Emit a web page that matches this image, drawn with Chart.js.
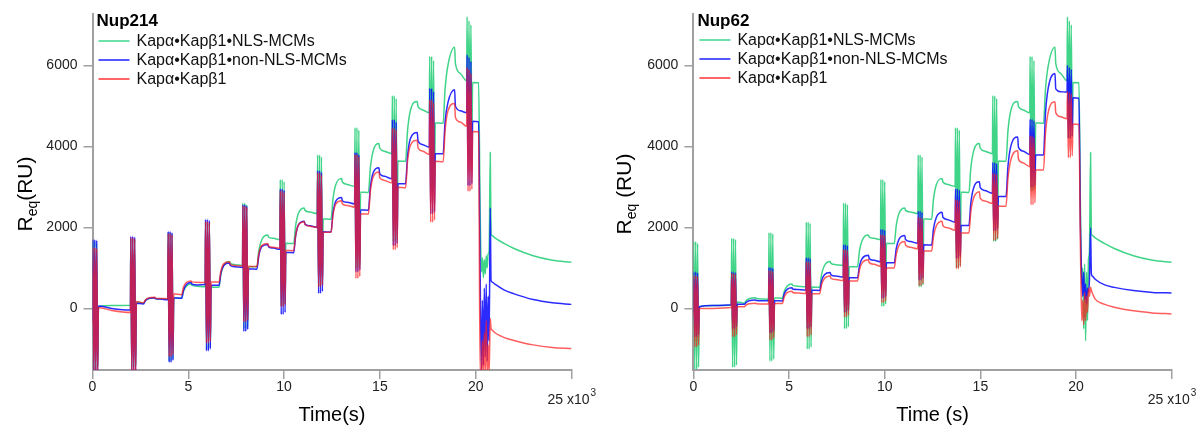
<!DOCTYPE html>
<html><head><meta charset="utf-8">
<script src="https://cdn.jsdelivr.net/npm/chart.js@4.4.1/dist/chart.umd.min.js"></script>
<style>
html,body{margin:0;padding:0;background:#fff;}
#wrap{position:relative;width:1201px;height:428px;overflow:hidden;}
.panel{position:absolute;top:0;width:600px;height:428px;}
#warn{position:absolute;left:300px;top:200px;color:#f00;font:20px sans-serif;}
</style></head><body>
<div id="wrap">
<div class="panel" style="left:0"><canvas id="c1" width="600" height="428"></canvas></div>
<div class="panel" style="left:600px"><canvas id="c2" width="600" height="428"></canvas></div>
<div id="warn"></div>
</div>
<script>
// ---------- shared time grid (s) ----------
const time = [
  0, 20, 70, 120, 170, 220, 270, 310, 1000,
  1980, 2000, 2050, 2100, 2150, 2200, 2250, 2290, 2660, 2760, 2910, 3250, 3290, 3550,
  3930, 3950, 4000, 4050, 4100, 4150, 4200, 4240, 4650, 4750, 4900, 5150, 5190, 5450,
  5880, 5900, 5950, 6000, 6050, 6100, 6150, 6190, 6600, 6700, 6850, 7150, 7190, 7450,
  7830, 7850, 7900, 7950, 8000, 8050, 8100, 8140, 8580, 8680, 8830, 9150, 9190, 9450,
  9780, 9800, 9850, 9900, 9950, 10000, 10050, 10090, 10500, 10600, 10750, 11050, 11090, 11350,
  11730, 11750, 11800, 11850, 11900, 11950, 12000, 12040, 12450, 12550, 12700, 13000, 13040, 13300,
  13680, 13700, 13750, 13800, 13850, 13900, 13950, 13990, 14400, 14500, 14650, 14950, 14990, 15250,
  15630, 15650, 15700, 15750, 15800, 15850, 15900, 15940, 16340, 16440, 16590, 16950, 16990, 17250,
  17580, 17600, 17650, 17700, 17750, 17800, 17850, 17890, 18300, 18400, 18550, 18900, 18940, 19200,
  19530, 19550, 19600, 19650, 19700, 19750, 19800, 19840, 20150,
  20230, 20300, 20350, 20400, 20450, 20500, 20550, 20600, 20650, 20700, 20760, 20800, 20850, 21000, 21500, 22000, 23000, 24000, 25000
];

// ---------- Nup214 (left) ----------
const nup214_NLS = [
  0, 1650, -1500, 1650, -1500, 1600, -1450, 40, 75,
  80, 1730, -1450, 1730, -1450, 1700, -1400, 160, 130, 195, 240, 265, 245, 235,
  225, 1870, -1300, 1870, -1300, 1840, -1250, 260, 250, 425, 550, 600, 570, 550,
  535, 2130, -1000, 2130, -1000, 2100, -950, 530, 520, 840, 1060, 1160, 1110, 1080,
  1060, 2600, -500, 2600, -500, 2560, -450, 1030, 1030, 1420, 1690, 1810, 1760, 1730,
  1700, 3180, 50, 3180, 50, 3130, 100, 1610, 1600, 2040, 2350, 2480, 2420, 2380,
  2340, 3790, 530, 3790, 530, 3740, 580, 2210, 2200, 2700, 3060, 3210, 3120, 3060,
  3010, 4460, 1000, 4460, 1000, 4400, 1050, 2870, 2860, 3460, 3890, 4070, 3960, 3880,
  3820, 5250, 1650, 5250, 1650, 5180, 1700, 3640, 3630, 4370, 4880, 5110, 4980, 4900,
  4830, 6220, 2900, 6220, 2900, 6120, 2950, 4580, 4570, 5400, 6000, 6450, 6050, 5800,
  5620, 7200, 4200, 7100, 4200, 7000, 4250, 5580, 5570,
  2500, 900, 1250, 760, 1200, 850, 1300, 1000, 1350, 1400, 3850, 1840, 1800, 1740, 1600, 1480, 1300, 1190, 1140
];
const nup214_nonNLS = [
  -300, 1700, -1600, 1700, -1600, 1680, -1600, 60, 0,
  -40, 1780, -1600, 1780, -1600, 1760, -1600, 130, 110, 190, 245, 265, 240, 230,
  215, 1900, -1330, 1900, -1330, 1870, -1280, 260, 250, 450, 590, 640, 600, 580,
  590, 2200, -1050, 2200, -1050, 2170, -1000, 575, 570, 870, 1060, 1120, 1060, 1030,
  1010, 2560, -570, 2560, -570, 2530, -520, 975, 970, 1300, 1520, 1580, 1520, 1490,
  1460, 2950, -150, 2950, -150, 2920, -100, 1380, 1375, 1780, 2060, 2150, 2080, 2040,
  2000, 3400, 370, 3400, 370, 3360, 420, 1890, 1885, 2350, 2650, 2740, 2660, 2620,
  2580, 3850, 900, 3850, 900, 3800, 950, 2430, 2425, 2980, 3350, 3470, 3330, 3260,
  3200, 4660, 1550, 4660, 1550, 4600, 1600, 3080, 3080, 3750, 4190, 4340, 4140, 4040,
  3980, 5430, 2330, 5430, 2330, 5350, 2380, 3820, 3820, 4600, 5080, 5400, 5000, 4880,
  4830, 6260, 3030, 6200, 3030, 6100, 3080, 4620, 4610,
  1000, -1600, 200, -1400, 500, -1200, 600, -1300, 300, -800, 2480, 690, 650, 600, 450, 360, 220, 140, 100
];
const nup214_kap = [
  -400, 1500, -1600, 1500, -1600, 1480, -1600, 20, -50,
  -100, 1750, -1600, 1750, -1600, 1720, -1600, 170, 140, 210, 255, 275, 250, 245,
  240, 1850, -1190, 1850, -1190, 1820, -1140, 360, 340, 530, 640, 680, 655, 645,
  640, 2150, -860, 2150, -860, 2120, -810, 655, 650, 920, 1100, 1150, 1090, 1060,
  1050, 2530, -330, 2530, -330, 2500, -280, 1040, 1035, 1340, 1550, 1600, 1540, 1510,
  1490, 2900, 40, 2900, 40, 2860, 90, 1430, 1425, 1800, 2060, 2140, 2070, 2030,
  2000, 3350, 530, 3350, 530, 3300, 580, 1880, 1880, 2300, 2580, 2660, 2580, 2540,
  2500, 3800, 740, 3800, 740, 3750, 790, 2330, 2330, 2880, 3250, 3370, 3230, 3160,
  3100, 4450, 1450, 4450, 1450, 4400, 1500, 2990, 2980, 3620, 4020, 4150, 3960, 3880,
  3800, 5150, 2130, 5150, 2130, 5080, 2180, 3630, 3620, 4370, 4870, 5060, 4720, 4600,
  4500, 5950, 2890, 5900, 2890, 5800, 2940, 4370, 4360,
  -1600, -1600, -800, -1600, -600, -1600, -300, -1600, -900, -1600, -250, -490, -530, -600, -720, -790, -900, -965, -990
];

// ---------- Nup62 (right) ----------
const nup62_NLS = [
  0, 1650, -1500, 1650, -1500, 1600, -1450, 40, 75,
  80, 1730, -1450, 1730, -1450, 1700, -1400, 160, 130, 195, 240, 265, 245, 235,
  225, 1870, -1300, 1870, -1300, 1840, -1250, 260, 250, 425, 550, 600, 570, 550,
  535, 2130, -1000, 2130, -1000, 2100, -950, 530, 520, 840, 1060, 1160, 1110, 1080,
  1060, 2600, -500, 2600, -500, 2560, -450, 1030, 1030, 1420, 1690, 1810, 1760, 1730,
  1700, 3180, 50, 3180, 50, 3130, 100, 1610, 1600, 2040, 2350, 2480, 2420, 2380,
  2340, 3790, 530, 3790, 530, 3740, 580, 2210, 2200, 2700, 3060, 3210, 3120, 3060,
  3010, 4460, 1000, 4460, 1000, 4400, 1050, 2870, 2860, 3460, 3890, 4070, 3960, 3880,
  3820, 5250, 1650, 5250, 1650, 5180, 1700, 3640, 3630, 4370, 4880, 5110, 4980, 4900,
  4830, 6220, 2900, 6220, 2900, 6120, 2950, 4580, 4570, 5400, 6000, 6450, 6050, 5800,
  5620, 7200, 4200, 7100, 4200, 7000, 4250, 5580, 5570,
  2500, 600, 1000, -500, 1100, -800, 900, -300, 1200, 1400, 3850, 1840, 1800, 1740, 1600, 1480, 1300, 1190, 1140
];
const nup62_nonNLS = [
  -100, 900, -700, 900, -700, 880, -650, 40, 70,
  90, 900, -500, 900, -500, 880, -450, 100, 100, 150, 190, 205, 195, 190,
  190, 1010, -600, 1010, -600, 990, -550, 190, 185, 360, 470, 510, 480, 465,
  455, 1250, -500, 1250, -500, 1230, -450, 450, 445, 680, 830, 885, 830, 800,
  775, 1570, -100, 1570, -100, 1550, -50, 760, 755, 1050, 1240, 1310, 1230, 1190,
  1150, 1950, 250, 1950, 250, 1930, 300, 1130, 1125, 1470, 1710, 1800, 1700, 1650,
  1610, 2400, 700, 2400, 700, 2370, 750, 1570, 1565, 1970, 2250, 2375, 2250, 2190,
  2130, 2950, 1230, 2950, 1230, 2920, 1280, 2050, 2045, 2600, 2980, 3130, 2980, 2910,
  2840, 3600, 1920, 3600, 1920, 3570, 1970, 2760, 2760, 3500, 4000, 4230, 3980, 3880,
  3800, 4670, 2990, 4670, 2990, 4630, 3040, 3790, 3785, 4800, 5450, 5800, 5420, 5350,
  5340, 6000, 4200, 5950, 4200, 5900, 4250, 5200, 5190,
  2000, 700, 300, 900, 200, 600, 100, 500, 400, 700, 1990, 860, 800, 720, 580, 520, 440, 395, 380
];
const nup62_kap = [
  -200, 810, -950, 810, -950, 790, -900, 0, 0,
  20, 860, -700, 860, -700, 840, -650, 40, 40, 85, 115, 125, 115, 112,
  110, 930, -780, 930, -780, 910, -730, 120, 120, 290, 390, 425, 395, 380,
  370, 1150, -700, 1150, -700, 1130, -650, 365, 365, 590, 740, 800, 745, 715,
  690, 1450, -210, 1450, -210, 1430, -160, 680, 680, 950, 1130, 1200, 1130, 1090,
  1040, 1820, 140, 1820, 140, 1800, 190, 1000, 1000, 1330, 1560, 1650, 1560, 1510,
  1470, 2250, 560, 2250, 560, 2220, 610, 1420, 1415, 1780, 2040, 2150, 2040, 1990,
  1930, 2680, 980, 2680, 980, 2650, 1030, 1860, 1860, 2380, 2730, 2880, 2720, 2650,
  2590, 3330, 1680, 3330, 1680, 3300, 1730, 2520, 2520, 3200, 3660, 3890, 3690, 3590,
  3500, 4260, 2560, 4260, 2560, 4220, 2610, 3420, 3420, 4300, 4850, 5100, 4830, 4730,
  4680, 5360, 3720, 5330, 3720, 5300, 3770, 4550, 4540,
  1500, -300, 200, -400, 400, -300, 300, -100, 500, 300, 520, 450, 380, 230, 100, 30, -60, -110, -135
];

// ---------- labels ----------
const seriesLabels = ['Kapα•Kapβ1•NLS-MCMs', 'Kapα•Kapβ1•non-NLS-MCMs', 'Kapα•Kapβ1'];
const yTicks = [0, 2000, 4000, 6000];
const xTicks = [0, 5, 10, 15, 20, 25];

// ---------- style ----------
const F = 'Arial, "Liberation Sans", Helvetica, sans-serif';
const COL = {
  green: 'rgba(30,205,115,0.85)',
  blue: 'rgba(20,20,255,0.9)',
  red: 'rgba(255,30,30,0.72)'
};
const LEG = ['rgb(60,215,140)', 'rgb(30,30,255)', 'rgb(255,50,50)'];
const AXC = '#a0a0a0';

// length check
const all = {nup214_NLS, nup214_nonNLS, nup214_kap, nup62_NLS, nup62_nonNLS, nup62_kap};
const bad = Object.entries(all).filter(([k, v]) => v.length !== time.length).map(([k, v]) => k + ':' + v.length);
if (bad.length) document.getElementById('warn').textContent = 'len ' + time.length + ' ' + bad.join(' ');

function pts(vals) { return time.map((t, i) => ({x: t, y: vals[i]})); }

const textPlugin = {
  id: 'texts',
  afterDraw(chart, args, o) {
    const ctx = chart.ctx, a = chart.chartArea;
    ctx.save();
    ctx.textAlign = 'left';
    ctx.textBaseline = 'middle';
    ctx.fillStyle = '#000';
    ctx.font = 'bold 17px ' + F;
    ctx.fillText(o.title, a.left + 4, 21);
    ctx.font = '16px ' + F;
    seriesLabels.forEach((lab, i) => {
      const y = o.legendY + i * 19;
      ctx.strokeStyle = LEG[i];
      ctx.lineWidth = 1.5;
      ctx.beginPath();
      ctx.moveTo(a.left + 6, y);
      ctx.lineTo(a.left + 37, y);
      ctx.stroke();
      ctx.fillStyle = '#111';
      ctx.fillText(lab, a.left + 44, y + 1);
    });
    // x title
    ctx.textAlign = 'center';
    ctx.textBaseline = 'alphabetic';
    ctx.font = '20px ' + F;
    ctx.fillStyle = '#000';
    ctx.fillText(o.xTitle, (a.left + a.right) / 2, 421);
    // 25 x10^3
    ctx.textAlign = 'left';
    ctx.font = '14px ' + F;
    ctx.fillStyle = '#222';
    const base = String(xTicks[xTicks.length - 1]) + ' x10';
    const bx = a.right - 24;
    ctx.fillText(base, bx, 404);
    const bw = ctx.measureText(base).width;
    ctx.font = '10px ' + F;
    ctx.fillText('3', bx + bw + 1, 396);
    // y title (rotated, with subscript)
    ctx.translate(o.yTitleX, 194);
    ctx.rotate(-Math.PI / 2);
    const parts = [
      {t: 'R', s: 21, dy: 0},
      {t: 'eq', s: 14, dy: 5},
      {t: o.yRest, s: 21, dy: 0}
    ];
    let w = 0;
    parts.forEach(p => { ctx.font = p.s + 'px ' + F; p.w = ctx.measureText(p.t).width; w += p.w; });
    let x = -w / 2;
    ctx.fillStyle = '#000';
    parts.forEach(p => { ctx.font = p.s + 'px ' + F; ctx.fillText(p.t, x, 7.8 + p.dy); x += p.w; });
    ctx.restore();
  }
};

function makeChart(id, data3, opts) {
  const [g, b, r] = data3;
  const mk = (label, vals, color, order) => ({
    label, data: pts(vals), borderColor: color, backgroundColor: color,
    borderWidth: 1.5, pointRadius: 0, fill: false, order,
    cubicInterpolationMode: 'monotone'
  });
  return new Chart(document.getElementById(id), {
    type: 'line',
    data: {
      datasets: [
        mk(seriesLabels[2], r, COL.red, 0),
        mk(seriesLabels[1], b, COL.blue, 1),
        mk(seriesLabels[0], g, COL.green, 2)
      ]
    },
    options: {
      responsive: false, animation: false, devicePixelRatio: 1,
      parsing: false, normalized: true,
      layout: {padding: {left: 0, right: opts.padRight, top: 12, bottom: 0}},
      plugins: {legend: {display: false}, tooltip: {enabled: false}, texts: opts},
      scales: {
        x: {
          type: 'linear', min: 0, max: 25000,
          afterFit(s) { s.height = 58; },
          afterBuildTicks(s) { s.ticks = xTicks.map(v => ({value: v * 1000})); },
          ticks: {
            autoSkip: false, maxRotation: 0, padding: 0, color: '#222',
            font: {size: 14, family: F},
            callback: v => (v === 25000 ? '' : String(v / 1000))
          },
          grid: {display: true, drawOnChartArea: false, drawTicks: true, tickLength: 9, color: AXC, lineWidth: 1.5},
          border: {display: true, color: AXC, width: 2}
        },
        y: {
          min: -1520, max: 7258,
          afterFit(s) { s.width = opts.yWidth; },
          afterBuildTicks(s) { s.ticks = yTicks.map(v => ({value: v})); },
          ticks: {padding: 6, color: '#222', font: {size: 14, family: F}, callback: v => String(v)},
          grid: {display: true, drawOnChartArea: false, drawTicks: true, tickLength: 9, color: AXC, lineWidth: 1.5},
          border: {display: true, color: AXC, width: 2}
        }
      }
    },
    plugins: [textPlugin]
  });
}

makeChart('c1', [nup214_NLS, nup214_nonNLS, nup214_kap], {
  title: 'Nup214', xTitle: 'Time(s)', yRest: '(RU)', yTitleX: 24, legendY: 41,
  yWidth: 92.5, padRight: 28.5
});
makeChart('c2', [nup62_NLS, nup62_nonNLS, nup62_kap], {
  title: 'Nup62', xTitle: 'Time (s)', yRest: ' (RU)', yTitleX: 23, legendY: 40,
  yWidth: 93.4, padRight: 28.3
});
</script>
</body></html>
